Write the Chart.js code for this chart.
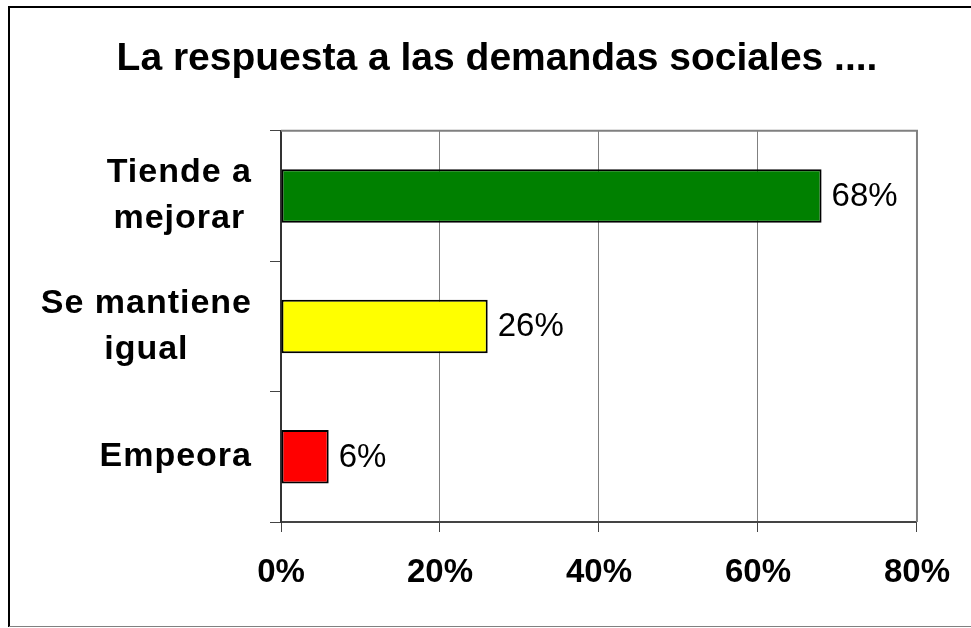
<!DOCTYPE html>
<html>
<head>
<meta charset="utf-8">
<script src="https://cdn.jsdelivr.net/npm/chart.js@4/dist/chart.umd.min.js"></script>
<style>
  html, body { margin: 0; padding: 0; background: #fff; }
  #wrap { width: 971px; height: 628px; }
</style>
</head>
<body>
<div id="wrap"><canvas id="chart" width="971" height="628"></canvas></div>
<script>
const titleText = 'La respuesta a las demandas sociales ....';
const categories = [['Tiende a', 'mejorar'], ['Se mantiene', 'igual'], ['Empeora']];
const values = [68, 26, 6];
const barColors = ['#008000', '#FFFF00', '#FF0000'];
const xTicks = [0, 20, 40, 60, 80];

const FONT = 'Arial, "Liberation Sans", sans-serif';

// frame of the picture + gray top/right edge of the plot area
const framePlugin = {
  id: 'frame',
  afterDraw(chart) {
    const ctx = chart.ctx;
    const a = chart.chartArea;
    ctx.save();
    ctx.strokeStyle = '#808080';
    ctx.lineWidth = 2;
    ctx.beginPath();
    ctx.moveTo(a.left, a.top);
    ctx.lineTo(a.right, a.top);
    ctx.lineTo(a.right, a.bottom);
    ctx.stroke();

    ctx.strokeStyle = '#000';
    ctx.lineWidth = 2;
    ctx.beginPath();
    ctx.moveTo(chart.width, 7);
    ctx.lineTo(9, 7);
    ctx.lineTo(9, 627);
    ctx.stroke();
    ctx.strokeStyle = '#808080';
    ctx.lineWidth = 1;
    ctx.beginPath();
    ctx.moveTo(9, 626.5);
    ctx.lineTo(chart.width, 626.5);
    ctx.stroke();
    ctx.restore();
  }
};

// category labels: each block right-aligned to the axis, lines centred inside it
const categoryLabels = {
  id: 'categoryLabels',
  afterDraw(chart) {
    const ctx = chart.ctx;
    const scale = chart.scales.y;
    const lineH = 46;
    const right = chart.chartArea.left - 29;
    ctx.save();
    ctx.font = 'bold 34px ' + FONT;
    ctx.letterSpacing = '1px';
    ctx.fillStyle = '#000';
    ctx.textAlign = 'center';
    ctx.textBaseline = 'middle';
    chart.data.labels.forEach((lines, i) => {
      const y = scale.getPixelForTick(i);
      const w = Math.max(...lines.map(t => ctx.measureText(t).width));
      const cx = right - w / 2;
      lines.forEach((t, k) => {
        ctx.fillText(t, cx, y + (k - (lines.length - 1) / 2) * lineH);
      });
    });
    ctx.restore();
  }
};

// value labels at the end of each bar
const valueLabels = {
  id: 'valueLabels',
  afterDatasetsDraw(chart) {
    const ctx = chart.ctx;
    const meta = chart.getDatasetMeta(0);
    ctx.save();
    ctx.font = '33px ' + FONT;
    ctx.fillStyle = '#000';
    ctx.textAlign = 'left';
    ctx.textBaseline = 'middle';
    meta.data.forEach((bar, i) => {
      ctx.fillText(values[i] + '%', bar.x + 10, bar.y + 1);
    });
    ctx.restore();
  }
};

new Chart(document.getElementById('chart'), {
  type: 'bar',
  data: {
    labels: categories,
    datasets: [{
      data: values,
      backgroundColor: barColors,
      borderColor: '#000',
      borderWidth: 2,
      borderSkipped: false,
      barPercentage: 0.41,
      categoryPercentage: 1
    }]
  },
  options: {
    indexAxis: 'y',
    responsive: false,
    animation: false,
    layout: { padding: { top: 10, left: 76, right: 53, bottom: 10 } },
    plugins: {
      legend: { display: false },
      tooltip: { enabled: false },
      title: {
        display: true,
        text: titleText,
        color: '#000',
        font: { family: FONT, size: 39, weight: 'bold', lineHeight: 1.2 },
        padding: { top: 26, bottom: 48 }
      }
    },
    scales: {
      x: {
        min: 0,
        max: 80,
        afterBuildTicks(scale) {
          scale.ticks = xTicks.map(v => ({ value: v }));
        },
        afterFit(scale) { scale.height = 96; },
        grid: {
          color: '#808080',
          lineWidth: 1,
          tickLength: 10,
          tickColor: '#444'
        },
        border: { color: '#444', width: 2 },
        ticks: {
          color: '#000',
          padding: 21,
          font: { family: FONT, size: 33, weight: 'bold' },
          callback: v => v + '%'
        }
      },
      y: {
        afterFit(scale) { scale.width = 205; },
        grid: {
          offset: true,
          drawOnChartArea: false,
          tickLength: 11,
          tickColor: '#444'
        },
        border: { color: '#333', width: 2 },
        ticks: { display: false }
      }
    }
  },
  plugins: [framePlugin, categoryLabels, valueLabels]
});
</script>
</body>
</html>
